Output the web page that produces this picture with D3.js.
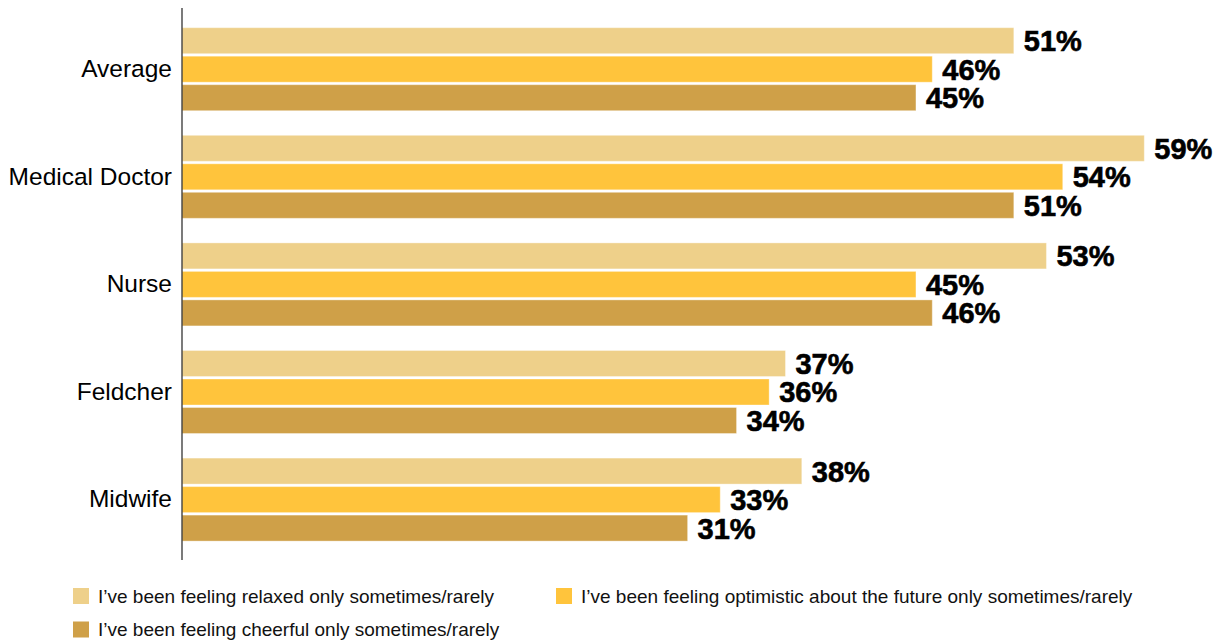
<!DOCTYPE html>
<html>
<head>
<meta charset="utf-8">
<script src="https://cdn.jsdelivr.net/npm/d3@7/dist/d3.min.js"></script>
<style>
  html, body { margin: 0; padding: 0; background: #fff; }
  svg { display: block; }
  text { font-family: "Liberation Sans", Arial, Helvetica, sans-serif; }
</style>
</head>
<body>
<svg id="chart" width="1220" height="644"></svg>
<script>
// Professions shown on the vertical axis
const categories = ["Average", "Medical Doctor", "Nurse", "Feldcher", "Midwife"];

// Survey statements (one bar per statement in each group)
const seriesNames = [
  "I\u2019ve been feeling relaxed only sometimes/rarely",
  "I\u2019ve been feeling optimistic about the future only sometimes/rarely",
  "I\u2019ve been feeling cheerful only sometimes/rarely"
];

// Share of respondents (%) per statement, in category order
const relaxed    = [51, 59, 53, 37, 38];
const optimistic = [46, 54, 45, 36, 33];
const cheerful   = [45, 51, 46, 34, 31];

const seriesColors = ["#EED08A", "#FFC43C", "#CFA048"];

const seriesValues = [relaxed, optimistic, cheerful];
const rows = categories.map((c, i) => ({
  category: c,
  values: seriesValues.map((vals, s) => ({ series: s, value: vals[i] }))
}));

const svg = d3.select("#chart");

const x = d3.scaleLinear().domain([0, 60]).range([182, 182 + 60 * 16.31]);

const y0 = d3.scaleBand()
  .domain(categories)
  .range([27.7, 541.1])
  .paddingInner(0.2286)
  .paddingOuter(0);

const y1 = d3.scaleBand()
  .domain(d3.range(seriesNames.length))
  .range([0, y0.bandwidth()])
  .paddingInner(0.0877);

// Bars
const groups = svg.append("g").selectAll("g")
  .data(rows)
  .join("g")
  .attr("transform", d => `translate(0,${y0(d.category)})`);

groups.selectAll("rect")
  .data(d => d.values)
  .join("rect")
  .attr("x", x(0))
  .attr("y", d => y1(d.series))
  .attr("width", d => x(d.value) - x(0))
  .attr("height", y1.bandwidth())
  .attr("fill", d => seriesColors[d.series])
  .attr("stroke", "rgba(255,255,255,0.35)")
  .attr("stroke-width", 1);

// Value labels
groups.selectAll("text.value")
  .data(d => d.values)
  .join("text")
  .attr("class", "value")
  .attr("x", d => x(d.value) + 10)
  .attr("y", d => y1(d.series) + y1.bandwidth() / 2)
  .attr("dy", "0.36em")
  .attr("font-size", 29)
  .attr("font-weight", "bold")
  .attr("fill", "#000")
  .attr("stroke", "#000")
  .attr("stroke-width", 0.6)
  .text(d => d.value + "%");

// Category axis (labels to the left of the baseline)
const yAxis = d3.axisLeft(y0).tickSize(0).tickPadding(10);
const axisG = svg.append("g")
  .attr("transform", `translate(${x(0)},0)`)
  .call(yAxis);
axisG.select(".domain").remove();
axisG.selectAll("text")
  .attr("font-size", 24.5)
  .attr("font-family", "'Liberation Sans', Arial, sans-serif")
  .attr("fill", "#000");

svg.append("line")
  .attr("x1", x(0)).attr("x2", x(0))
  .attr("y1", 8).attr("y2", 560)
  .attr("stroke", "#333")
  .attr("stroke-width", 1.3);

// Legend
const legendPos = [
  { x: 73, y: 596 },
  { x: 556, y: 596 },
  { x: 73, y: 629.5 }
];
const legend = svg.append("g").selectAll("g")
  .data(seriesNames)
  .join("g")
  .attr("transform", (d, i) => `translate(${legendPos[i].x},${legendPos[i].y})`);

legend.append("rect")
  .attr("x", 0).attr("y", -8)
  .attr("width", 16).attr("height", 16)
  .attr("fill", (d, i) => seriesColors[i]);

legend.append("text")
  .attr("x", 25)
  .attr("y", 0)
  .attr("dy", "0.35em")
  .attr("font-size", 19)
  .attr("fill", "#111")
  .text(d => d);
</script>
</body>
</html>
